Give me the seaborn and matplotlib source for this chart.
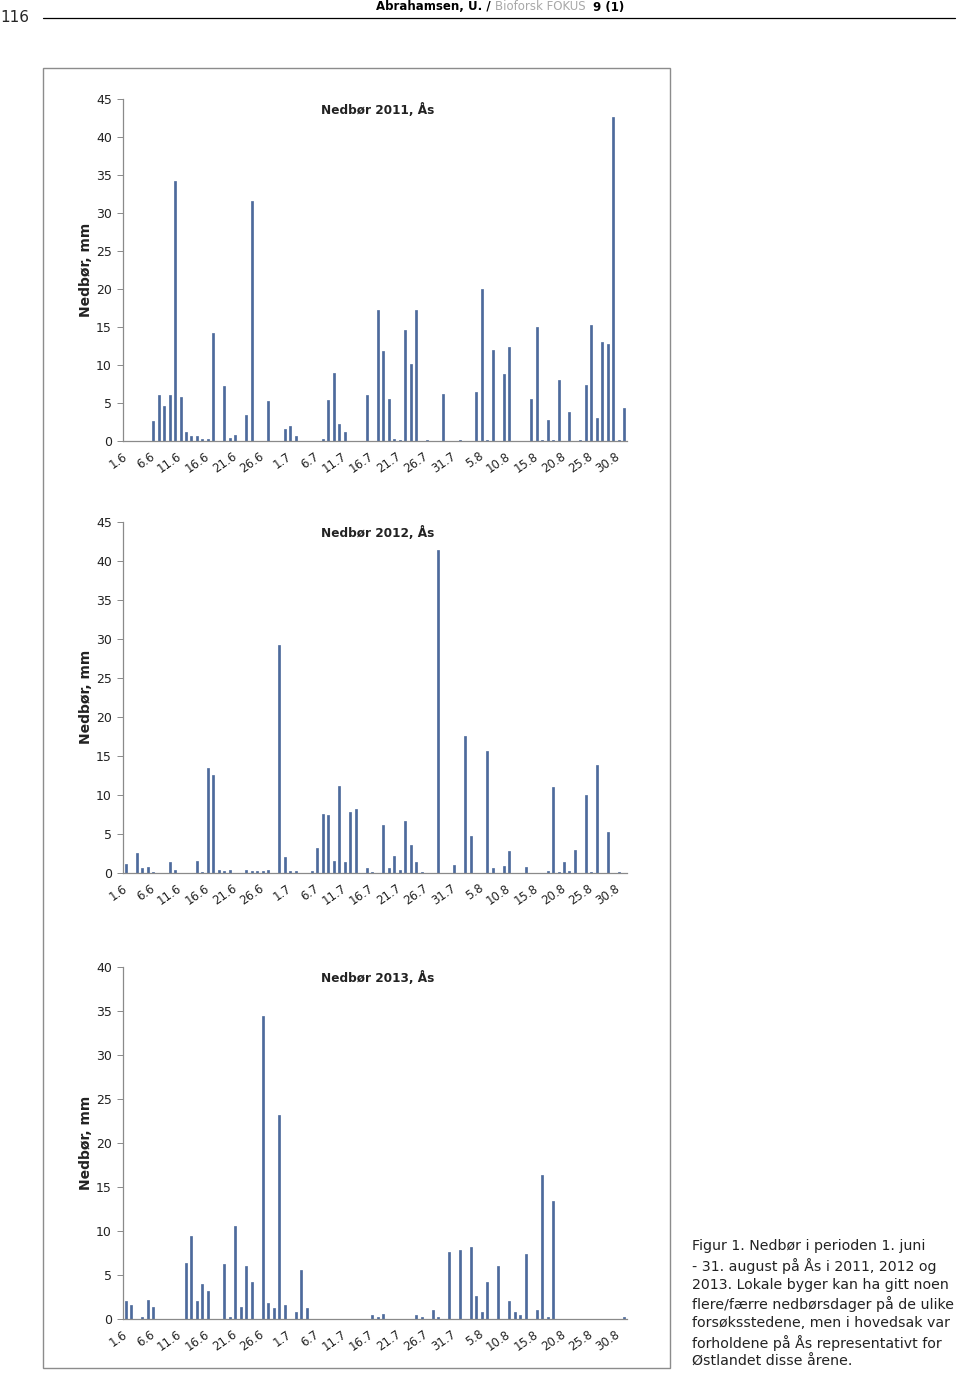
"""Nedbør på Ås, juni-august 2011-2013 (figur 1)."""

import numpy as np
import pandas as pd
import matplotlib
matplotlib.use("Agg")
import matplotlib.pyplot as plt
from matplotlib.patches import Rectangle
from matplotlib.lines import Line2D
import seaborn as sns

# categories: 1.6 .. 31.8
DAYS = ([f"{d}.6" for d in range(1, 31)] +
        [f"{d}.7" for d in range(1, 32)] +
        [f"{d}.8" for d in range(1, 32)])

RAIN_2011 = [
    0, 0, 0, 0, 0, 2.6, 6.0, 4.6, 6.0, 34.2,
    5.8, 1.2, 0.6, 0.6, 0.2, 0.2, 14.2, 0, 7.2, 0.4,
    0.8, 0, 3.4, 31.6, 0, 0, 5.2, 0, 0, 1.6,
    2.0, 0.6, 0, 0, 0, 0, 0.2, 5.4, 9.0, 2.2,
    1.2, 0, 0, 0, 6.0, 0, 17.2, 11.8, 5.5, 0.3,
    0.1, 14.6, 10.1, 17.2, 0, 0.1, 0, 0, 6.2, 0,
    0, 0.1, 0, 0, 6.4, 20.0, 0.1, 12.0, 0, 8.8,
    12.4, 0, 0, 0, 5.5, 15.0, 0.1, 2.8, 0.1, 8.0,
    0, 3.8, 0, 0.1, 7.4, 15.2, 3.0, 13.0, 12.8, 42.6,
    0.1, 4.3,
]

RAIN_2012 = [
    1.2, 0, 2.6, 0.6, 0.8, 0.1, 0, 0, 1.4, 0.4,
    0, 0, 0, 1.6, 0.1, 13.4, 12.6, 0.4, 0.2, 0.4,
    0, 0, 0.4, 0.2, 0.2, 0.2, 0.4, 0, 29.2, 2.0,
    0.2, 0.2, 0, 0, 0.2, 3.2, 7.6, 7.4, 1.6, 11.2,
    1.4, 7.8, 8.2, 0, 0.6, 0.1, 0, 6.2, 0.6, 2.2,
    0.4, 6.6, 3.6, 1.4, 0.1, 0, 0, 41.4, 0, 0,
    1.0, 0, 17.6, 4.8, 0, 0, 15.6, 0.6, 0, 0.9,
    2.8, 0, 0, 0.8, 0, 0, 0, 0.3, 11.0, 0.1,
    1.4, 0.2, 3.0, 0, 10.0, 0.1, 13.8, 0, 5.2, 0,
    0.1, 0,
]

RAIN_2013 = [
    2.0, 1.6, 0, 0.2, 2.2, 1.4, 0, 0, 0, 0,
    0, 6.4, 9.4, 2.0, 4.0, 3.2, 0, 0, 6.2, 0.2,
    10.6, 1.4, 6.0, 4.2, 0, 34.4, 1.8, 1.2, 23.2, 1.6,
    0, 0.8, 5.6, 1.2, 0, 0, 0, 0, 0, 0,
    0, 0, 0, 0, 0, 0.4, 0.2, 0.6, 0, 0,
    0, 0, 0, 0.4, 0.2, 0, 1.0, 0.2, 0, 7.6,
    0, 7.8, 0, 8.2, 2.6, 0.8, 4.2, 0, 6.0, 0,
    2.0, 0.8, 0.4, 7.4, 0, 1.0, 16.4, 0.2, 13.4, 0,
    0, 0, 0, 0, 0, 0, 0, 0, 0, 0,
    0, 0.2,
]

YEARS  = ["2011", "2012", "2013"]
SERIES = [RAIN_2011, RAIN_2012, RAIN_2013]
Y_MAX  = [45, 45, 40]

HEADER = [("Abrahamsen, U. / ", "black", "bold"),
          ("Bioforsk FOKUS  ", "#a8a8a8", "normal"),
          ("9 (1)", "black", "bold")]

CAPTION = ("Figur 1. Nedbør i perioden 1. juni\n"
           "- 31. august på Ås i 2011, 2012 og\n"
           "2013. Lokale byger kan ha gitt noen\n"
           "flere/færre nedbørsdager på de ulike\n"
           "forsøksstedene, men i hovedsak var\n"
           "forholdene på Ås representativt for\n"
           "Østlandet disse årene.")

BAR_COLOR  = "#4d6a9c"
AXIS_COLOR = "#8a8a8a"
TEXT_COLOR = "#222222"
W, H = 960, 1373

sns.set_style("white")
plt.rcParams["font.family"] = ["DejaVu Sans"]


def fx(px):
    return px / W


def fy(py):
    return 1 - py / H


def draw_year(fig, year, values, ymax, top_px, bottom_px):
    ax = fig.add_axes([fx(123), fy(bottom_px), fx(627) - fx(123),
                       (bottom_px - top_px) / H])
    df = pd.DataFrame({"dag": DAYS, "mm": values})
    sns.barplot(data=df, x="dag", y="mm", order=DAYS, color=BAR_COLOR,
                saturation=1, width=0.36, edgecolor=BAR_COLOR, linewidth=0.5,
                ax=ax)

    ax.set_xlim(-0.5, len(DAYS) - 0.5)
    ax.set_ylim(0, ymax)
    ax.set_yticks(range(0, ymax + 1, 5))
    ax.set_xticks(range(0, len(DAYS), 5))
    ax.set_xticklabels(DAYS[::5], rotation=35, ha="right", va="center",
                       rotation_mode="anchor", fontsize=8.5, color=TEXT_COLOR)
    ax.set_xticks(np.arange(-0.5, len(DAYS), 1), minor=True)
    ax.tick_params(axis="x", which="major", length=0, pad=10)
    ax.tick_params(axis="x", which="minor", length=3, width=0.7,
                   color=AXIS_COLOR, direction="out")
    ax.tick_params(axis="y", length=4, width=0.7, color=AXIS_COLOR, pad=4,
                   labelsize=9, labelcolor=TEXT_COLOR, left=True)

    for side in ["top", "right"]:
        ax.spines[side].set_visible(False)
    for side in ["left", "bottom"]:
        ax.spines[side].set_color(AXIS_COLOR)
        ax.spines[side].set_linewidth(0.9)

    ax.set_xlabel("")
    ax.set_ylabel("Nedbør, mm", fontsize=10, fontweight="bold", color=TEXT_COLOR)
    ax.yaxis.set_label_coords(-0.059, 0.5)
    ax.text(0.506, 0.968, f"Nedbør {year}, Ås", transform=ax.transAxes,
            ha="center", va="center", fontsize=8.7, fontweight="bold",
            color=TEXT_COLOR)
    return ax


fig = plt.figure(figsize=(W / 100, H / 100), dpi=100)
renderer = fig.canvas.get_renderer()

# page header: three pieces laid out one after the other, centred as a group
pieces = [fig.text(0, fy(7), s, ha="left", va="center", fontsize=8.5,
                   color=c, fontweight=wt) for s, c, wt in HEADER]
widths = [p.get_window_extent(renderer).width for p in pieces]
x0 = 500 - sum(widths) / 2
for p, w in zip(pieces, widths):
    p.set_x(fx(x0))
    x0 += w
fig.text(fx(0), fy(18), "116", ha="left", va="center", fontsize=11)
fig.add_artist(Line2D([fx(43), fx(955)], [fy(18), fy(18)], color="black",
                      lw=0.9))

# frame round the three charts
fig.add_artist(Rectangle((fx(43), fy(1368)), fx(670) - fx(43), (1368 - 68) / H,
                         fill=False, edgecolor="#8c8c8c", lw=1.0))

positions = [(99, 441), (521.7, 873), (967, 1319)]
for year, values, ymax, (top, bottom) in zip(YEARS, SERIES, Y_MAX, positions):
    draw_year(fig, year, values, ymax, top, bottom)

fig.text(fx(692), fy(1239), CAPTION, ha="left", va="top", fontsize=10.2,
         linespacing=1.36, color=TEXT_COLOR)

fig.savefig("out.png", dpi=100)
plt.close()
